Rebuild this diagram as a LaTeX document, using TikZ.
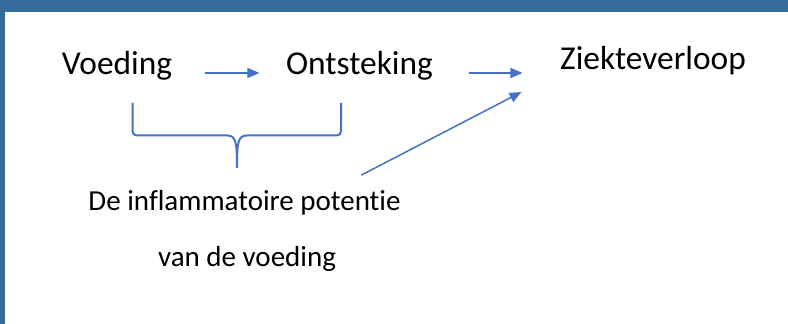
\documentclass[tikz,border=0pt]{standalone}
\usepackage{fontspec}
\setmainfont{Carlito}[Ligatures=NoCommon]
\usepackage{tikz}
\usetikzlibrary{arrows.meta}
\usetikzlibrary{calc}
\definecolor{kader}{RGB}{53,107,155}
\definecolor{pijlblauw}{RGB}{68,114,196}

\begin{document}
\begin{tikzpicture}[
	grootlabel/.style={inner sep=0pt, anchor=base, font=\fontsize{9.5pt}{11pt}\selectfont},
	kleinlabel/.style={inner sep=0pt, anchor=base, font=\fontsize{8.25pt}{10pt}\selectfont},
	pijl/.style={draw=pijlblauw, line width=0.015cm, -{Triangle[length=0.12cm,width=0.10cm]}},
	accolade/.style={draw=pijlblauw, line width=0.02cm}]

	  \useasboundingbox (0,0) rectangle (7.88,-3.24);
	  %----------------------------------------------------------------
	  \fill [kader] (0,0) rectangle (7.88,-0.12);
	  \fill [kader] (0,0) rectangle (0.05,-3.24);

	  %----------------------------------------------------------------
	  \node [grootlabel] (voeding) at (1.17,-0.75) {Voeding};
	  \node [grootlabel] (ontsteking) at (3.595,-0.75) {Ontsteking};
	  \node [grootlabel] (ziekte) at (6.53,-0.70) {Ziekteverloop};

	  \node [kleinlabel] (infl) at (2.445,-2.11) {De inflammatoire potentie};
	  \node [kleinlabel] (vdv) at (2.47,-2.67) {van de voeding};

	  %----------------------------------------------------------------
	  \draw [pijl, shorten <=0.32cm, shorten >=0.26cm] ([yshift=0.02cm]voeding.base east) -- ([yshift=0.02cm]voeding.base east -| ontsteking.base west);
	  \draw [pijl, shorten <=0.35cm, shorten >=0.37cm] ([yshift=0.02cm]ontsteking.base east) -- ([yshift=0.02cm]ontsteking.base east -| ziekte.base west);
	  \draw [pijl] ([xshift=-0.40cm,yshift=0.15cm]infl.north east) -- ([xshift=-0.38cm,yshift=-0.22cm]ziekte.base west);

	  %----------------------------------------------------------------
	  \draw [accolade] (1.325,-1.03) -- (1.325,-1.26) .. controls (1.325,-1.355) .. (1.42,-1.355) -- (2.27,-1.355) .. controls (2.36,-1.355) and (2.37,-1.42) .. (2.37,-1.68);
	  \draw [accolade] (2.37,-1.68) .. controls (2.37,-1.42) and (2.38,-1.355) .. (2.47,-1.355) -- (3.315,-1.355) .. controls (3.41,-1.355) .. (3.41,-1.26) -- (3.41,-1.03);

\end{tikzpicture}
\end{document}
